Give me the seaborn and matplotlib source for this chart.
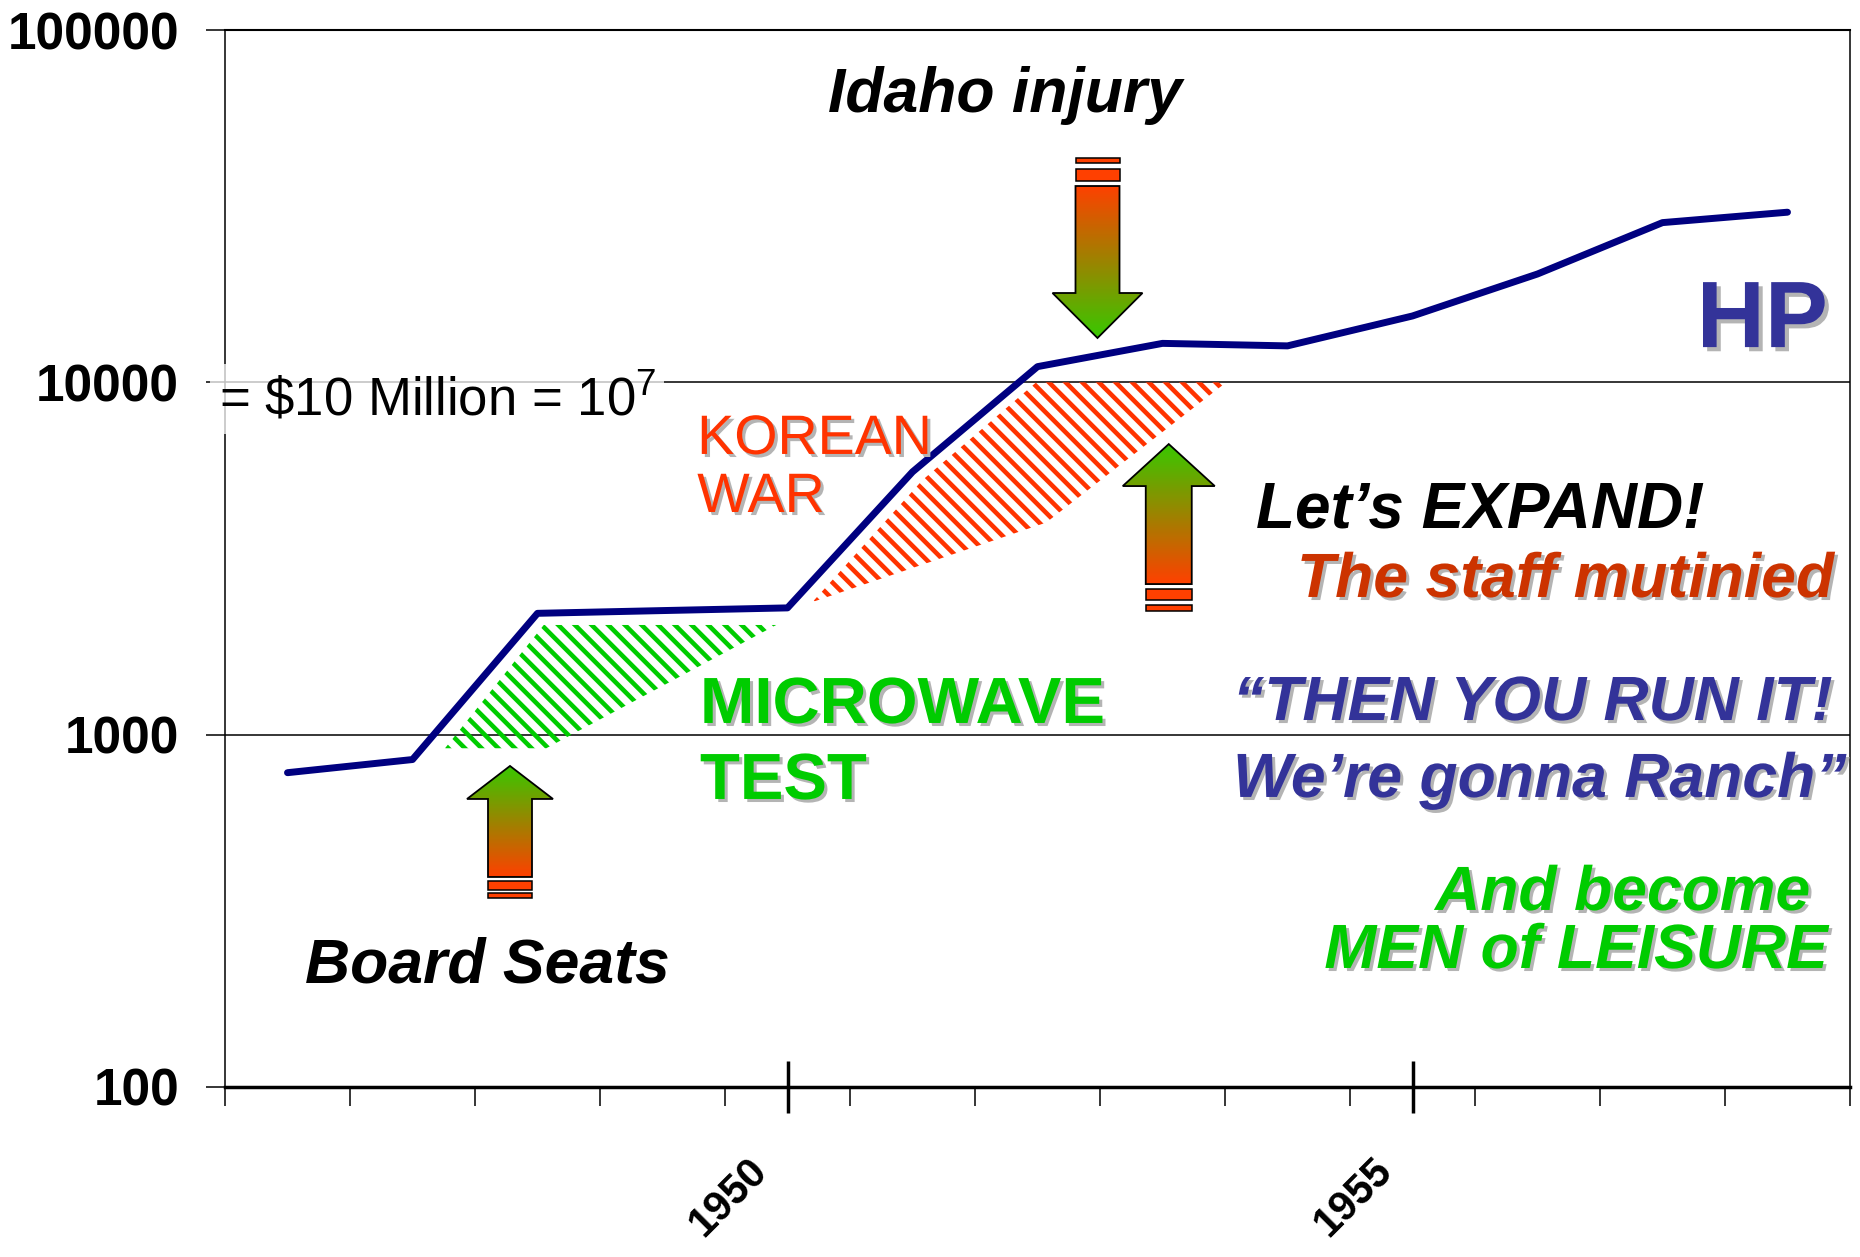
import numpy as np
import pandas as pd
import seaborn as sns
import matplotlib
matplotlib.use('Agg')
import matplotlib.pyplot as plt
import matplotlib.patheffects as pe
from matplotlib.patches import Polygon, Rectangle
from matplotlib.colors import LinearSegmentedColormap
from matplotlib.transforms import ScaledTranslation
from matplotlib.ticker import NullLocator

# HP sales (thousands of $)
years = [1946, 1947, 1948, 1949, 1950, 1951, 1952, 1953, 1954, 1955, 1956, 1957, 1958]
sales = [780, 850, 2210, 2250, 2290, 5570, 11080, 12900, 12690, 15430, 20300, 28400, 30400]

# hatched areas
micro_years = [1947.26, 1948.05, 1949.91, 1948.07]
micro_vals = [915, 2048, 2048, 915]
korea_years = [1950.20, 1951.08, 1951.99, 1953.51, 1952.07]
korea_vals = [2380, 5280, 10000, 10000, 4000]

# block arrows: tip position and direction
arrow_years = [1947.78, 1952.48, 1953.05]
arrow_vals = [815, 13360, 6680]
arrow_dirs = ['up', 'down', 'up']

ytick_vals = [100, 1000, 10000, 100000]
ytick_labels = ['100', '1000', '10000', '100000']
xtick_vals = [1950, 1955]
xtick_labels = ['1950', '1955']

sns.set_style('white')
plt.rcParams['font.family'] = ['Liberation Sans', 'DejaVu Sans']
plt.rcParams['text.color'] = 'black'
plt.rcParams['hatch.linewidth'] = 3.3
plt.rcParams['mathtext.fontset'] = 'custom'
plt.rcParams['mathtext.rm'] = 'Liberation Sans'

W, H = 1860, 1257
fig = plt.figure(figsize=(W / 100, H / 100), dpi=100)
ax = fig.add_axes([225 / W, 1 - 1087 / H, 1625 / W, 1057 / H])
ax.set_yscale('log')

# hatching first so the line sits on top
ax.fill(micro_years, micro_vals, facecolor='none', edgecolor='#00cc00', hatch='\\\\', linewidth=0, zorder=1)
ax.fill(korea_years, korea_vals, facecolor='none', edgecolor='#ff3300', hatch='\\\\', linewidth=0, zorder=1)

df = pd.DataFrame({'year': years, 'sales': sales})
sns.lineplot(data=df, x='year', y='sales', color='#000080', linewidth=5,
             solid_capstyle='round', ax=ax, zorder=2)
ax.set_xlabel('')
ax.set_ylabel('')

ax.set_xlim(1945.5, 1958.5)
ax.set_ylim(100, 100000)
ax.set_yticks(ytick_vals, labels=ytick_labels)
ax.yaxis.set_minor_locator(NullLocator())
ax.set_xticks(xtick_vals, labels=xtick_labels)
ax.set_xticks(np.arange(1945.5, 1959, 1), minor=True)

ax.grid(axis='y', which='major', color='black', linewidth=1.1)
ax.tick_params(axis='y', which='major', left=True, direction='out', length=14, width=1.1,
               pad=19, labelsize=37, colors='black')
ax.tick_params(axis='x', which='major', bottom=True, direction='inout', length=38, width=2.5,
               pad=27, labelsize=30, colors='black')
ax.tick_params(axis='x', which='minor', bottom=True, direction='out', length=14, width=1.1,
               colors='black')
for lab in ax.get_yticklabels():
    lab.set_fontweight('bold')
for lab in ax.get_xticklabels():
    lab.set_fontweight('bold')
    lab.set_rotation(45)
    lab.set_ha('right')
    lab.set_va('top')
    lab.set_transform(lab.get_transform() + ScaledTranslation(-0.12, 0, fig.dpi_scale_trans))

for side, lw in [('top', 1.5), ('left', 1.1), ('right', 1.1), ('bottom', 2.5)]:
    ax.spines[side].set_visible(True)
    ax.spines[side].set_color('black')
    ax.spines[side].set_linewidth(lw)

shadow = [pe.withSimplePatchShadow(offset=(2.2, -2.2), shadow_rgbFace='#b4b4b4', alpha=1)]
T = ax.transAxes

ax.text(-0.004, 0.6358, r'= \$10 Million = 10$^{7}$', transform=T, fontsize=38,
        ha='left', va='baseline', zorder=4,
        bbox=dict(facecolor='white', alpha=0.75, edgecolor='none', pad=6))
ax.text(0.480, 0.9385, 'Idaho injury', transform=T, fontsize=45, weight='bold',
        style='italic', ha='center', va='center')
ax.text(0.2906, 0.5989, 'KOREAN', transform=T, fontsize=40,
        color='#ff3300', path_effects=shadow)
ax.text(0.2906, 0.5440, 'WAR', transform=T, fontsize=40,
        color='#ff3300', path_effects=shadow)
ax.text(0.2923, 0.3444, 'MICROWAVE', transform=T, fontsize=47, weight='bold',
        color='#00cc00', path_effects=shadow)
ax.text(0.2923, 0.2725, 'TEST', transform=T, fontsize=47, weight='bold',
        color='#00cc00', path_effects=shadow)
ax.text(0.6345, 0.5298, 'Let’s EXPAND!', transform=T, fontsize=46, weight='bold',
        style='italic', ha='left')
ax.text(0.9902, 0.4636, 'The staff mutinied', transform=T, fontsize=45, weight='bold',
        style='italic', ha='right', color='#cc3300', path_effects=shadow)
ax.text(0.6203, 0.3472, '“THEN YOU RUN IT!', transform=T, fontsize=45, weight='bold',
        style='italic', ha='left', color='#333399', path_effects=shadow)
ax.text(0.6203, 0.2744, 'We’re gonna Ranch”', transform=T, fontsize=45, weight='bold',
        style='italic', ha='left', color='#333399', path_effects=shadow)
ax.text(0.9754, 0.1675, 'And become', transform=T, fontsize=45, weight='bold',
        style='italic', ha='right', color='#00cc00', path_effects=shadow)
ax.text(0.9865, 0.1126, 'MEN of LEISURE', transform=T, fontsize=45, weight='bold',
        style='italic', ha='right', color='#00cc00', path_effects=shadow)
ax.text(0.0492, 0.0993, 'Board Seats', transform=T, fontsize=45, weight='bold',
        style='italic', ha='left')
ax.text(0.9865, 0.700, 'HP', transform=T, fontsize=68, weight='bold', ha='right',
        color='#333399', path_effects=[pe.withSimplePatchShadow(offset=(3, -3),
        shadow_rgbFace='#b4b4b4', alpha=1)])

# overlay in pixel units for the gradient block arrows
ov = fig.add_axes([0, 0, 1, 1], zorder=3)
ov.set_autoscale_on(False)
ov.set_xlim(0, W)
ov.set_ylim(0, H)
ov.axis('off')
ov.patch.set_alpha(0)

cmap = LinearSegmentedColormap.from_list('arr', ['#ff4000', '#38c800'])
# head length, shaft length, head half width, shaft half width, bar gaps/heights
shapes = [
    (33, 78, 43, 22, [(4, 9), (3, 5)]),
    (45, 107, 45, 22, [(5, 12), (6, 5)]),
    (42, 98, 46, 23, [(5, 11), (5, 6)]),
]

for yr, val, d, (hl, sl, hw, sw, bars) in zip(arrow_years, arrow_vals, arrow_dirs, shapes):
    x0, y0 = ax.transData.transform((yr, val))
    s = 1 if d == 'up' else -1

    def P(dx, dist):
        return (x0 + dx, y0 - s * dist)

    L = hl + sl
    verts = [P(0, 0), P(hw, hl), P(sw, hl), P(sw, L), P(-sw, L), P(-sw, hl), P(-hw, hl)]
    poly = Polygon(verts, closed=True, facecolor='none', edgecolor='black', lw=1.3, zorder=3)
    ov.add_patch(poly)
    grad = np.linspace(0, 1, 256).reshape(-1, 1)
    if d == 'down':
        grad = grad[::-1]
    ylo, yhi = sorted([y0, y0 - s * L])
    im = ov.imshow(grad, extent=[x0 - hw, x0 + hw, ylo, yhi], origin='lower',
                   cmap=cmap, aspect='auto', zorder=2)
    im.set_clip_path(poly)
    dist = L
    for gap, h in bars:
        dist += gap
        yb = min(y0 - s * dist, y0 - s * (dist + h))
        ov.add_patch(Rectangle((x0 - sw, yb), 2 * sw, h, facecolor='#ff4000',
                               edgecolor='black', lw=1.1, zorder=3))
        dist += h

ov.set_xlim(0, W)
ov.set_ylim(0, H)

fig.savefig('out.png', dpi=100)
